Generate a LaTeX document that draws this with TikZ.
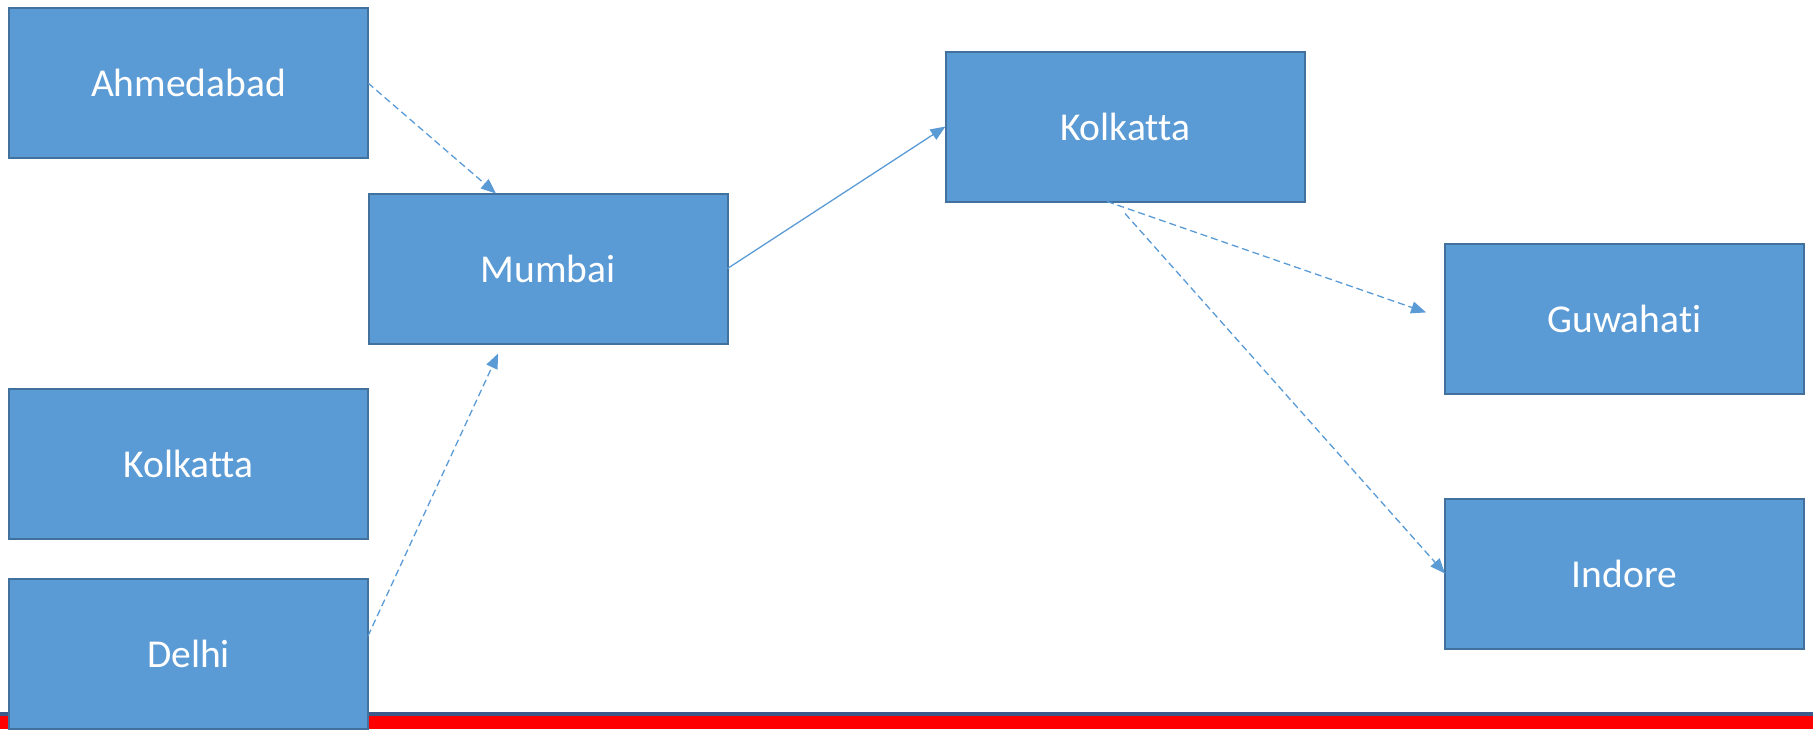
\documentclass[tikz,border=0pt]{standalone}
\usepackage{fontspec}
\setmainfont[Ligatures=NoCommon]{Carlito}
\usetikzlibrary{arrows.meta,calc}
\definecolor{boxfill}{HTML}{5B9BD5}
\definecolor{boxedge}{HTML}{41719C}
\definecolor{barline}{HTML}{3C5A8A}
\begin{document}
\begin{tikzpicture}[x=1pt,y=-1pt,
  city/.style={draw=boxedge,fill=boxfill,line width=2pt,minimum width=359pt,
    minimum height=150pt,outer sep=0pt,inner sep=0pt,text=white,
    font=\fontsize{39.5}{46}\selectfont},
  link/.style={draw=boxfill,line width=1.3pt,
    -{Triangle[length=15pt,width=12pt]}},
  dashlink/.style={link,dash pattern=on 7pt off 4pt}]
\useasboundingbox (0,0) rectangle (1813,729);
% footer band
\fill[red] (0,714) rectangle (1813,729);
\fill[barline] (0,712) rectangle (1813,715.5);
% city boxes
\node[city] (ahm) at (188.5,83) {Ahmedabad};
\node[city] (mum) at (548,268.5) {Mumbai};
\node[city] (kolt) at (1125,126.5) {Kolkatta};
\node[city] (guw) at (1624.5,319) {Guwahati};
\node[city] (koll) at (188.5,464) {Kolkatta};
\node[city] (del) at (188.5,654) {Delhi};
\node[city] (ind) at (1624.5,573.5) {Indore};
% connectors
\draw[dashlink] (ahm.east) -- ($(mum.north west)!0.355!(mum.north east)$);
\draw[dashlink,shorten >=11pt] ($(del.east)+(0,-18)$) -- ($(mum.south west)!0.374!(mum.south east)$);
\draw[link] (mum.east) -- (kolt.west);
\draw[dashlink,shorten >=20pt] ($(kolt.south west)!0.45!(kolt.south east)$) -- (guw.west);
\draw[dashlink] ($(kolt.south)+(0,12)$) -- (ind.west);
\end{tikzpicture}
\end{document}
